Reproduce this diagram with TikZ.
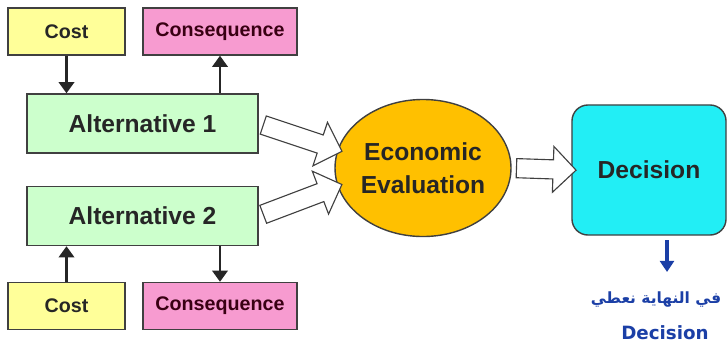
\documentclass[tikz,border=0pt]{standalone}
\usepackage{fontspec}
\setmainfont{Liberation Sans}
\newfontfamily\arabicfont[Script=Arabic]{DejaVu Sans}
\newfontfamily\handfont{DejaVu Sans}
\usetikzlibrary{shapes.geometric,shapes.arrows,arrows.meta,calc}
\TeXXeTstate=1

\definecolor{costyellow}{HTML}{FFFF99}
\definecolor{conspink}{HTML}{F79BD0}
\definecolor{altgreen}{HTML}{CCFFCC}
\definecolor{evalgold}{HTML}{FFC000}
\definecolor{deccyan}{HTML}{22EEF5}
\definecolor{edgegray}{HTML}{404040}
\definecolor{penblue}{HTML}{1B3FA6}

% hollow block arrow between two points
\newcommand{\fatarrow}[2]{%
  \path let \p1=(#1), \p2=(#2), \n1={veclen(\x2-\x1,\y2-\y1)} in
    (\p1) -- (\p2) node[fatarrow, midway, sloped, minimum height=\n1] {};}

\begin{document}
\begin{tikzpicture}[x=0.025cm, y=-0.025cm,
    box/.style={draw=edgegray, line width=1pt, text=black!85, inner sep=0pt},
    smallfont/.style={font=\fontsize{14}{16}\selectfont\bfseries},
    bigfont/.style={font=\fontsize{17.5}{23.5}\selectfont\bfseries},
    costbox/.style={box, smallfont, fill=costyellow, minimum width=2.925cm, minimum height=1.175cm},
    consbox/.style={box, smallfont, fill=conspink, text=black!70!purple, minimum width=3.85cm, minimum height=1.175cm},
    altbox/.style={box, bigfont, fill=altgreen, minimum width=5.775cm, minimum height=1.475cm},
    evalnode/.style={box, bigfont, ellipse, fill=evalgold, align=center, minimum width=4.35cm, minimum height=3.425cm},
    decbox/.style={box, bigfont, fill=deccyan, rounded corners=0.4cm, minimum width=3.85cm, minimum height=3.25cm},
    linkarrow/.style={-{Triangle[width=11pt,length=8pt]}, line width=1.8pt, black!85},
    fatarrow/.style={single arrow, draw=edgegray, fill=white, line width=0.8pt,
        inner xsep=0pt, inner ysep=6.4pt, minimum width=0pt,
        single arrow head extend=9.5pt, single arrow tip angle=90},
    notearrow/.style={-{Triangle[width=10pt,length=8pt]}, line width=2.2pt, penblue}
  ]
  \useasboundingbox (0,0) rectangle (727,349);

  % Top row
  \node[costbox] (cost1) at (66.5,31.5) {Cost};
  \node[consbox] (cons1) at (220,31.5) {Consequence};

  % Alternatives
  \node[altbox] (alt1) at (142.5,123.5) {Alternative 1};
  \node[altbox] (alt2) at (142.5,216) {Alternative 2};

  % Bottom row
  \node[costbox] (cost2) at (66.5,306) {Cost};
  \node[consbox] (cons2) at (220,306) {Consequence};

  % Evaluation and decision
  \node[evalnode] (eval) at (423,168) {Economic\\Evaluation};
  \node[decbox] (decision) at (649,170) {Decision};

  % Links between the boxes
  \draw[linkarrow] (cost1.south) -- (cost1.south |- alt1.north);
  \draw[linkarrow] (cons1.south |- alt1.north) -- (cons1.south);
  \draw[linkarrow] (cost2.north) -- (cost2.north |- alt2.south);
  \draw[linkarrow] (cons2.north |- alt2.south) -- (cons2.north);

  % Block arrows
  \fatarrow{alt1.east}{eval.168}
  \fatarrow{alt2.east}{eval.192}
  \fatarrow{eval.east}{decision.west}

  % Handwritten note
  \coordinate (penstart) at (667,240);
  \coordinate (penend) at (667,272);
  \draw[notearrow] (penstart) -- (penend);
  \node[penblue, font=\arabicfont\fontsize{11}{14}\selectfont\bfseries] (note1) at (656,300) {\beginR في النهاية نعطي\endR};
  \node[penblue, font=\handfont\fontsize{13}{16}\selectfont\bfseries] (note2) at (665,333) {Decision};
\end{tikzpicture}
\end{document}
